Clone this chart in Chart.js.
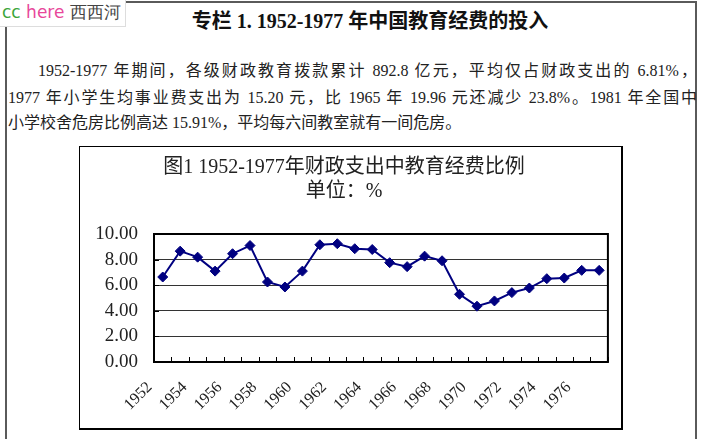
<!DOCTYPE html>
<html>
<head>
<meta charset="utf-8">
<script src="https://cdn.jsdelivr.net/npm/chart.js@4"></script>
<style>
  body { margin: 0; background: #fff; width: 705px; height: 439px; overflow: hidden; position: relative; }
  .frame { position: absolute; left: 5px; top: 1px; width: 688px; height: 460px; border: 2px solid #5a5a5a; border-bottom: none; }
  .mark { position: absolute; left: 0; top: 0; padding: 1px 4px 2px 2px; background: #fff; font: 17px "DejaVu Sans", sans-serif; border-right: 1px solid #ddd; border-bottom: 1px solid #ddd; }
  .head { position: absolute; left: 170px; top: 5px; width: 400px; text-align: center; font: bold 20px "Liberation Serif", "Noto Sans CJK SC", serif; color: #111; }
  .line { position: absolute; font: 16px "Liberation Serif", "Noto Sans CJK SC", serif; color: #222; white-space: nowrap; text-align: justify; text-align-last: justify; }
  .box { position: absolute; left: 79px; top: 146px; width: 541px; height: 281px; border: 1px solid #000; border-right-width: 2px; border-bottom-width: 2px; }
</style>
</head>
<body>
<div class="frame"></div>
<div class="mark"><span style="color:#3aa53a">cc</span> <span style="color:#e8479a">here</span> <span style="color:#444">西西河</span></div>
<div class="head">专栏 1. 1952-1977 年中国教育经费的投入</div>
<div class="line" style="left:38px; top:57px; width:659px;">1952-1977 年期间，各级财政教育拨款累计 892.8 亿元，平均仅占财政支出的 6.81%，</div>
<div class="line" style="left:8px; top:84px; width:689px;">1977 年小学生均事业费支出为 15.20 元，比 1965 年 19.96 元还减少 23.8%。1981 年全国中</div>
<div class="line" style="left:8px; top:109px; text-align-last: auto;">小学校舍危房比例高达 15.91%，平均每六间教室就有一间危房。</div>
<div class="box"><canvas id="chart" width="541" height="281"></canvas></div>
<script>
var years = ['1952','1953','1954','1955','1956','1957','1958','1959','1960','1961','1962','1963','1964',
  '1965','1966','1967','1968','1969','1970','1971','1972','1973','1974','1975','1976','1977'];
var eduShare = [6.64, 8.66, 8.19, 7.10, 8.46, 9.10, 6.25, 5.86, 7.10, 9.16, 9.24, 8.85, 8.79,
  7.76, 7.45, 8.27, 7.91, 5.29, 4.36, 4.77, 5.42, 5.78, 6.51, 6.56, 7.16, 7.16];
var yearTicks = ['1952','1954','1956','1958','1960','1962','1964','1966','1968','1970','1972','1974','1976'];
var yTicks = [0, 2, 4, 6, 8, 10];

var serif = '"Liberation Serif", "Noto Sans CJK SC", serif';

// frame round the plot area plus the small inward tick marks
var plotFrame = {
  id: 'plotFrame',
  beforeDatasetsDraw: function(chart) {
    var ctx = chart.ctx, a = chart.chartArea;
    var xs = chart.scales.x, ys = chart.scales.y;
    ctx.save();
    ctx.strokeStyle = '#000';
    ctx.lineWidth = 1;
    ctx.beginPath();
    for (var i = 0; i <= years.length; i++) {
      var px = Math.round(xs.getPixelForValue(i - 0.5)) + 0.5;
      ctx.moveTo(px, a.bottom);
      ctx.lineTo(px, a.bottom - 5);
    }
    yTicks.forEach(function(v) {
      var py = Math.round(ys.getPixelForValue(v)) + 0.5;
      ctx.moveTo(a.left, py);
      ctx.lineTo(a.left + 5, py);
    });
    ctx.stroke();
    ctx.lineWidth = 2;
    ctx.strokeRect(a.left, a.top, a.right - a.left, a.bottom - a.top);
    ctx.restore();
  }
};

var ctx = document.getElementById('chart').getContext('2d');
var myChart = new Chart(ctx, {
  type: 'line',
  data: {
    labels: years,
    datasets: [{
      label: '教育经费比例',
      data: eduShare,
      borderColor: '#000080',
      backgroundColor: '#000080',
      borderWidth: 2,
      pointStyle: 'rectRot',
      pointRadius: 5,
      pointBorderWidth: 1,
      tension: 0
    }]
  },
  options: {
    responsive: false,
    animation: false,
    layout: { padding: { left: 0, right: 13, top: 0, bottom: 0 } },
    plugins: {
      legend: { display: false },
      tooltip: { enabled: false },
      title: {
        display: true,
        text: ['图1 1952-1977年财政支出中教育经费比例', '单位：%'],
        color: '#222',
        font: { family: serif, size: 20, weight: 'normal', lineHeight: 1.2 },
        padding: { top: 9, bottom: 30 }
      }
    },
    scales: {
      x: {
        offset: true,
        grid: { display: false },
        border: { display: false },
        afterFit: function(s) { s.height = 66; },
        ticks: {
          autoSkip: false,
          minRotation: 45,
          maxRotation: 45,
          labelOffset: -13,
          padding: 8,
          color: '#222',
          font: { family: serif, size: 16 },
          callback: function(val) {
            var y = this.getLabelForValue(val);
            return yearTicks.indexOf(y) >= 0 ? y : '';
          }
        }
      },
      y: {
        min: 0,
        max: 10,
        afterFit: function(s) { s.width = 74; },
        afterBuildTicks: function(s) { s.ticks = yTicks.map(function(v) { return { value: v }; }); },
        grid: { color: '#333', lineWidth: 1, drawTicks: false },
        border: { display: false },
        ticks: {
          autoSkip: false,
          padding: 16,
          color: '#222',
          font: { family: serif, size: 19 },
          callback: function(v) { return v.toFixed(2); }
        }
      }
    }
  },
  plugins: [plotFrame]
});
</script>
</body>
</html>
